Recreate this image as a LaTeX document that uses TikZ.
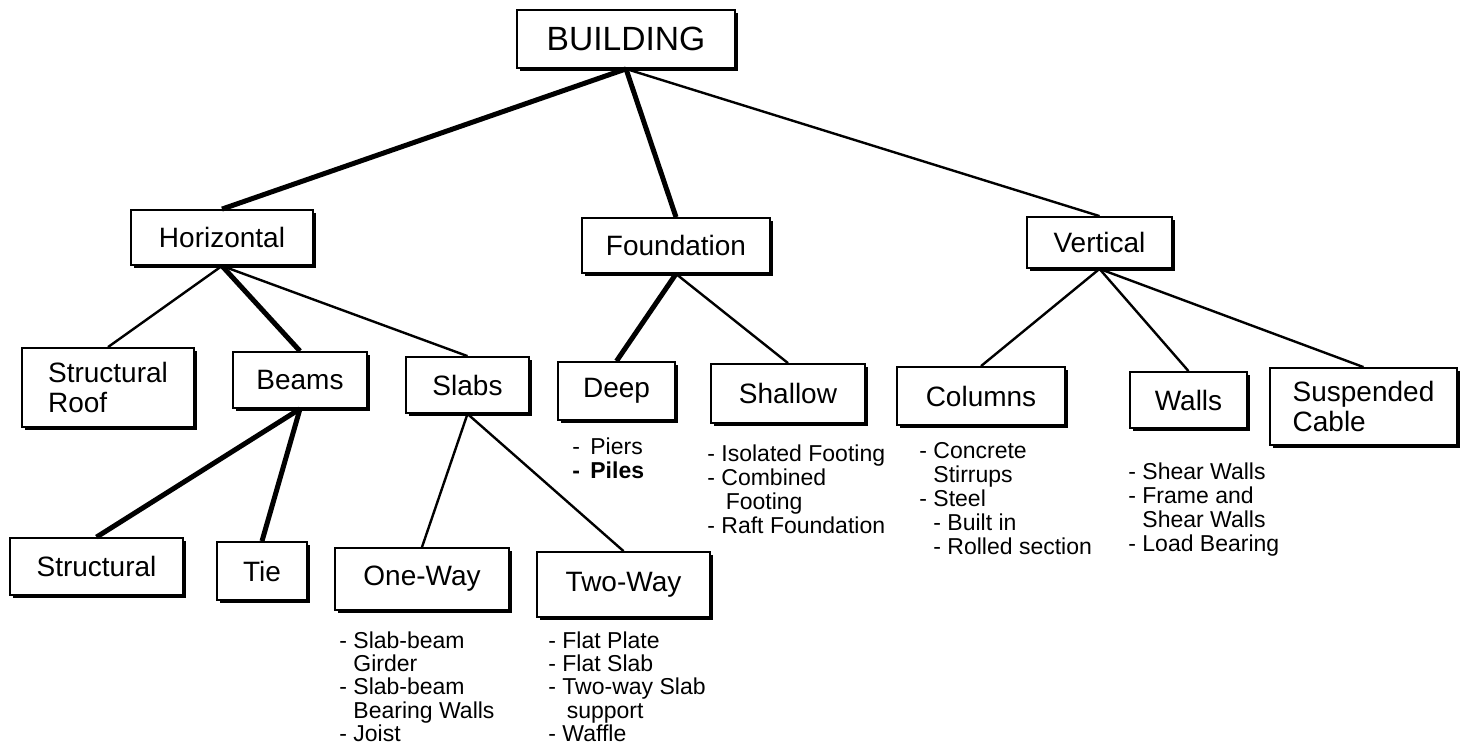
\documentclass[tikz,border=0pt]{standalone}
\usepackage{fontspec}
\setmainfont{Liberation Sans}
\usetikzlibrary{shadows}

\tikzset{
  box/.style={draw, line width=0.9pt, fill=white, inner sep=0pt, align=left,
    font=\fontsize{14}{15}\selectfont,
    drop shadow={shadow xshift=1.3pt, shadow yshift=-1.3pt, opacity=1, fill=black}},
  items/.style={anchor=north west, inner sep=0pt, align=left,
    font=\fontsize{11.5}{12}\selectfont},
  heavy/.style={line width=2.5pt},
  light/.style={line width=1.2pt}
}

\begin{document}
\begin{tikzpicture}[x=0.5pt, y=-0.5pt]
  \useasboundingbox (0,0) rectangle (1462,748);

  % top and second level
  \node[box, minimum width=109pt, minimum height=29pt, font=\fontsize{16.8}{18}\selectfont] (bld) at (626,39) {BUILDING};
  \node[box, minimum width=91pt, minimum height=27.5pt] (hor) at (222,237.5) {Horizontal};
  \node[box, minimum width=94pt, minimum height=27.5pt] (fnd) at (676,245.5) {Foundation};
  \node[box, minimum width=72.5pt, minimum height=25.5pt] (ver) at (1099.5,242.5) {Vertical};

  % third level
  \node[box, minimum width=86pt, minimum height=39.5pt] (roof) at (108,387.5) {Structural\\Roof};
  \node[box, minimum width=67pt, minimum height=28pt] (beams) at (300,380) {Beams};
  \node[box, minimum width=61.5pt, minimum height=28pt] (slabs) at (467.5,385) {Slabs};
  \node[box, minimum width=58.5pt, minimum height=29pt] (deep) at (616.5,391) {Deep};
  \node[box, minimum width=77pt, minimum height=29.5pt] (shallow) at (788,393.5) {Shallow};
  \node[box, minimum width=84pt, minimum height=29pt] (columns) at (981,396) {Columns};
  \node[box, minimum width=58.5pt, minimum height=28pt] (walls) at (1188.5,400) {Walls};
  \node[box, minimum width=93.5pt, minimum height=38.5pt] (cable) at (1363.5,406.5) {Suspended\\Cable};

  % fourth level
  \node[box, minimum width=86.5pt, minimum height=28.5pt] (struct) at (96.5,566.5) {Structural};
  \node[box, minimum width=45pt, minimum height=29pt] (tie) at (262,571) {Tie};
  \node[box, minimum width=87pt, minimum height=31pt] (oneway) at (422,579) {One-Way};
  \node[box, minimum width=86.5pt, minimum height=32.5pt] (twoway) at (623.5,584.5) {Two-Way};

  % lists
  \node[items] (deepl) at (572,437) {-\hspace{0.45em}Piers\\\textbf{-\hspace{0.45em}Piles}};
  \node[items] (shallowl) at (707,444) {- Isolated Footing\\- Combined\\\hspace{0.8em}Footing\\- Raft Foundation};
  \node[items, font=\fontsize{11.5}{11.7}\selectfont] (onewayl) at (339,631) {- Slab-beam\\\hphantom{- }Girder\\- Slab-beam\\\hphantom{- }Bearing Walls\\- Joist};
  \node[items, font=\fontsize{11.5}{11.7}\selectfont] (twowayl) at (548,631) {- Flat Plate\\- Flat Slab\\- Two-way Slab\\\hspace{0.8em}support\\- Waffle};
  \node[items] (columnsl) at (919,442) {- Concrete\\\hphantom{- }Stirrups\\- Steel\\\hphantom{- }- Built in\\\hphantom{- }- Rolled section};
  \node[items] (wallsl) at (1128,462) {- Shear Walls\\- Frame and\\\hphantom{- }Shear Walls\\- Load Bearing};

  % connectors
  \draw[heavy] (bld.south) -- (hor.north);
  \draw[heavy] (bld.south) -- (fnd.north);
  \draw[light] (bld.south) -- (ver.north);
  \draw[light] (hor.south) -- (roof.north);
  \draw[heavy] (hor.south) -- (beams.north);
  \draw[light] (hor.south) -- (slabs.north);
  \draw[heavy] (fnd.south) -- (deep.north);
  \draw[light] (fnd.south) -- (shallow.north);
  \draw[light] (ver.south) -- (columns.north);
  \draw[light] (ver.south) -- (walls.north);
  \draw[light] (ver.south) -- (cable.north);
  \draw[heavy] (beams.south) -- (struct.north);
  \draw[heavy] (beams.south) -- (tie.north);
  \draw[light] (slabs.south) -- (oneway.north);
  \draw[light] (slabs.south) -- (twoway.north);
\end{tikzpicture}
\end{document}
